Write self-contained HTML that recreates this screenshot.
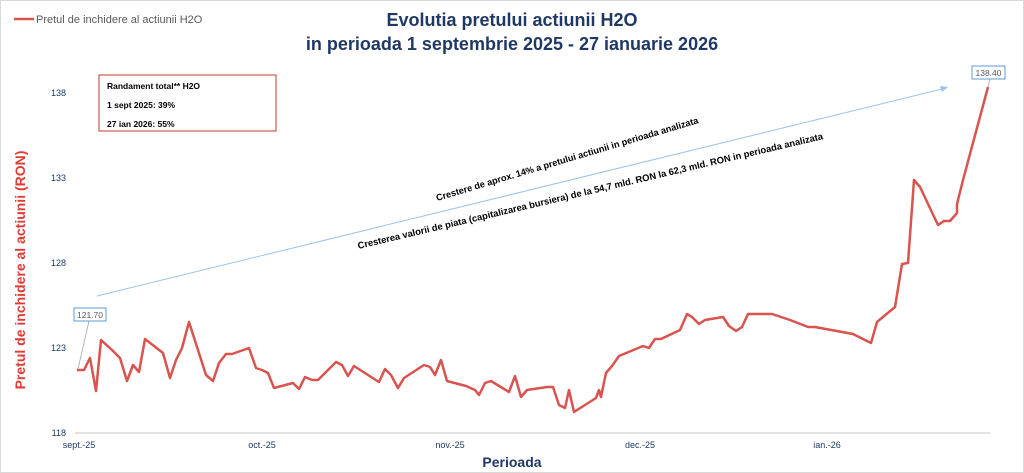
<!DOCTYPE html>
<html><head><meta charset="utf-8"><style>
body{margin:0;background:#fff}
svg{display:block;font-family:"Liberation Sans",sans-serif}
</style></head><body>
<svg width="1024" height="473" viewBox="0 0 1024 473">
<rect x="0.5" y="0.5" width="1023" height="472" fill="#fff" stroke="#d9d9d9"/>
<line x1="14" y1="19" x2="34" y2="19" stroke="#d9534f" stroke-width="2.5"/>
<text x="36" y="23" font-size="11" fill="#595959">Pretul de inchidere al actiunii H2O</text>
<text x="512" y="26" font-size="18" font-weight="bold" fill="#1f3864" text-anchor="middle">Evolutia pretului actiunii H2O</text>
<text x="512" y="50" font-size="18" font-weight="bold" fill="#1f3864" text-anchor="middle">in perioada 1 septembrie 2025 - 27 ianuarie 2026</text>
<rect x="99" y="75" width="177" height="56" fill="#fff" stroke="#c0392b" stroke-width="1"/>
<text x="107" y="89" font-size="8.5" font-weight="bold" fill="#000">Randament total** H2O</text>
<text x="107" y="108" font-size="8.5" font-weight="bold" fill="#000">1 sept 2025: 39%</text>
<text x="107" y="127" font-size="8.5" font-weight="bold" fill="#000">27 ian 2026: 55%</text>
<g font-size="9" fill="#1f3864" text-anchor="end">
<text x="66" y="96">138</text><text x="66" y="181">133</text><text x="66" y="266">128</text><text x="66" y="351">123</text><text x="66" y="436">118</text>
</g>
<line x1="75" y1="433" x2="990" y2="433" stroke="#d9d9d9" stroke-width="1.5"/>
<g font-size="9" fill="#1f3864" text-anchor="middle">
<text x="79" y="448">sept.-25</text><text x="262" y="448">oct.-25</text><text x="450" y="448">nov.-25</text><text x="640" y="448">dec.-25</text><text x="827" y="448">ian.-26</text>
</g>
<text x="512" y="467" font-size="14" font-weight="bold" fill="#1f3864" text-anchor="middle">Perioada</text>
<text transform="translate(25,270) rotate(-90)" font-size="14" font-weight="bold" fill="#e03c31" text-anchor="middle">Pretul de inchidere al actiunii (RON)</text>
<line x1="97" y1="296" x2="946" y2="88" stroke="#9dc3e6" stroke-width="1"/>
<polygon points="948,87 940,86 942,92" fill="#9dc3e6"/>
<text transform="translate(568,162) rotate(-16.6)" font-size="9.2" font-weight="bold" fill="#000" text-anchor="middle">Crestere de aprox. 14% a pretului actiunii in perioada analizata</text>
<text transform="translate(591,194) rotate(-13.3)" font-size="9.4" font-weight="bold" fill="#000" text-anchor="middle">Cresterea valorii de piata (capitalizarea bursiera) de la 54,7 mld.  RON la 62,3 mld. RON in perioada analizata</text>
<polyline fill="none" stroke="#d9534f" stroke-width="2.5" stroke-linejoin="round" points="77,370 84,370 90,358 96,391 101,340 112,350 120,358 127,381 133,365 139,372 145,339 163,353 170,378 176,360 182,348 189,322 206,375 213,381 219,363 226,354 232,354 249,348 256,368 262,370 268,373 274,388 293,383 299,389 305,377 312,380 318,380 336,362 342,365 348,376 354,366 379,382 385,369 391,375 398,388 404,378 424,365 430,367 435,375 441,360 447,381 466,386 475,390 479,395 485,383 491,381 509,392 515,376 521,397 527,390 547,387 553,387 559,405 565,408 569,390 574,412 596,398 599,390 601,397 606,373 612,366 619,356 643,346 649,348 655,339 661,339 680,330 687,314 692,317 699,324 705,320 723,317 729,326 736,331 742,327 748,314 772,314 790,320 808,327 815,327 853,334 871,343 877,322 895,307 902,264 908,263 914,180 920,187 938,225 944,221 950,221 957,213 957,204 963,180 988,87"/>
<line x1="78" y1="369" x2="89" y2="321" stroke="#a6a6a6" stroke-width="0.8"/>
<rect x="74" y="308" width="32" height="13" fill="#fff" stroke="#5b9bd5" stroke-width="1"/>
<text x="90" y="318" font-size="8.5" fill="#595959" text-anchor="middle">121.70</text>
<line x1="988" y1="87" x2="990" y2="79" stroke="#a6a6a6" stroke-width="0.8"/>
<rect x="972" y="66" width="33" height="13" fill="#fff" stroke="#5b9bd5" stroke-width="1"/>
<text x="988.5" y="76" font-size="8.5" fill="#595959" text-anchor="middle">138.40</text>
</svg>
</body></html>
